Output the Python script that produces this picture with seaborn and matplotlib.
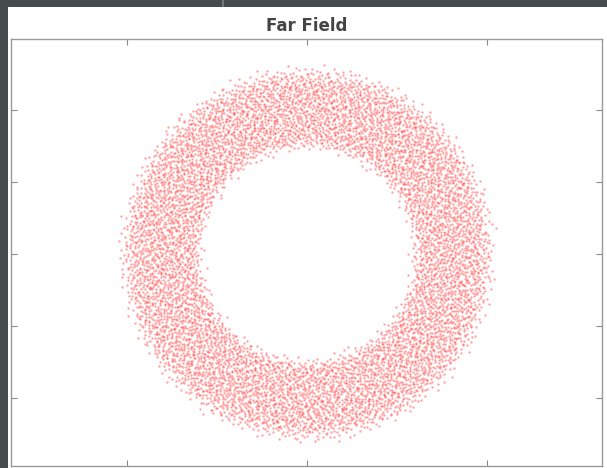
import numpy as np
import pandas as pd
import matplotlib
matplotlib.use("Agg")
import matplotlib.pyplot as plt
from matplotlib.patches import Rectangle
import seaborn as sns

# Far-field intensity ring: radial profile of the spot density
ring_radius = [0.280, 0.295, 0.308, 0.322, 0.360, 0.400, 0.440, 0.475, 0.495, 0.512, 0.532]
ring_density = [0.00, 0.20, 0.65, 1.00, 1.00, 1.00, 1.00, 0.95, 0.65, 0.25, 0.00]
n_spots = 8192

x_ticks = [-0.5, 0.0, 0.5]
y_ticks = [-0.4, -0.2, 0.0, 0.2, 0.4]
x_limits = (-0.822, 0.819)
y_limits = (-0.589, 0.597)


def halton(index, base):
    """Radical-inverse sequence value for each integer in ``index``."""
    result = np.zeros(len(index))
    frac = 1.0 / base
    i = index.copy()
    while np.any(i > 0):
        result += frac * (i % base)
        i //= base
        frac /= base
    return result


# Spread the spots over the ring following the radial profile
r_fine = np.linspace(ring_radius[0], ring_radius[-1], 400)
weight = np.interp(r_fine, ring_radius, ring_density) * r_fine
cdf = np.cumsum(weight)
cdf = (cdf - cdf[0]) / (cdf[-1] - cdf[0])

k = np.arange(n_spots)
u = halton(k, 3)
v = halton(k, 2)
radius = np.interp(u, cdf, r_fine)
angle = 2 * np.pi * v
spots = pd.DataFrame({"x": radius * np.cos(angle), "y": radius * np.sin(angle)})

sns.set_style("white")
plt.rcParams["font.family"] = ["DejaVu Sans"]

W, H = 607, 468
fig = plt.figure(figsize=(W / 100, H / 100), dpi=100)
fig.patch.set_facecolor("#464b4b")
fig.patches.append(Rectangle((8 / W, 0), 1, (H - 7) / H, transform=fig.transFigure,
                             facecolor="white", edgecolor="none", zorder=-10))
fig.patches.append(Rectangle((222 / W, (H - 7) / H), 2 / W, 7 / H, transform=fig.transFigure,
                             facecolor="#73777a", edgecolor="none", zorder=-10))

ax = fig.add_axes([11 / W, 2 / H, 591 / W, 427 / H])
ax.set_facecolor("white")
sns.scatterplot(data=spots, x="x", y="y", ax=ax, s=2.8, color="#ff3030",
                alpha=0.45, linewidth=0, legend=False)

ax.set_xlim(*x_limits)
ax.set_ylim(*y_limits)
ax.set_xticks(x_ticks)
ax.set_yticks(y_ticks)
ax.set_xticklabels([])
ax.set_yticklabels([])
ax.set_xlabel("")
ax.set_ylabel("")
ax.tick_params(direction="in", length=4, width=0.8, color="#8a8a8a",
               top=True, right=True, bottom=True, left=True)
for sp in ax.spines.values():
    sp.set_color("#9a9a9a")
    sp.set_linewidth(1.0)

ax.set_title("Far Field", fontsize=12, fontweight="bold", color="#444444", pad=6)

fig.savefig("out.png", dpi=100, facecolor=fig.get_facecolor())
